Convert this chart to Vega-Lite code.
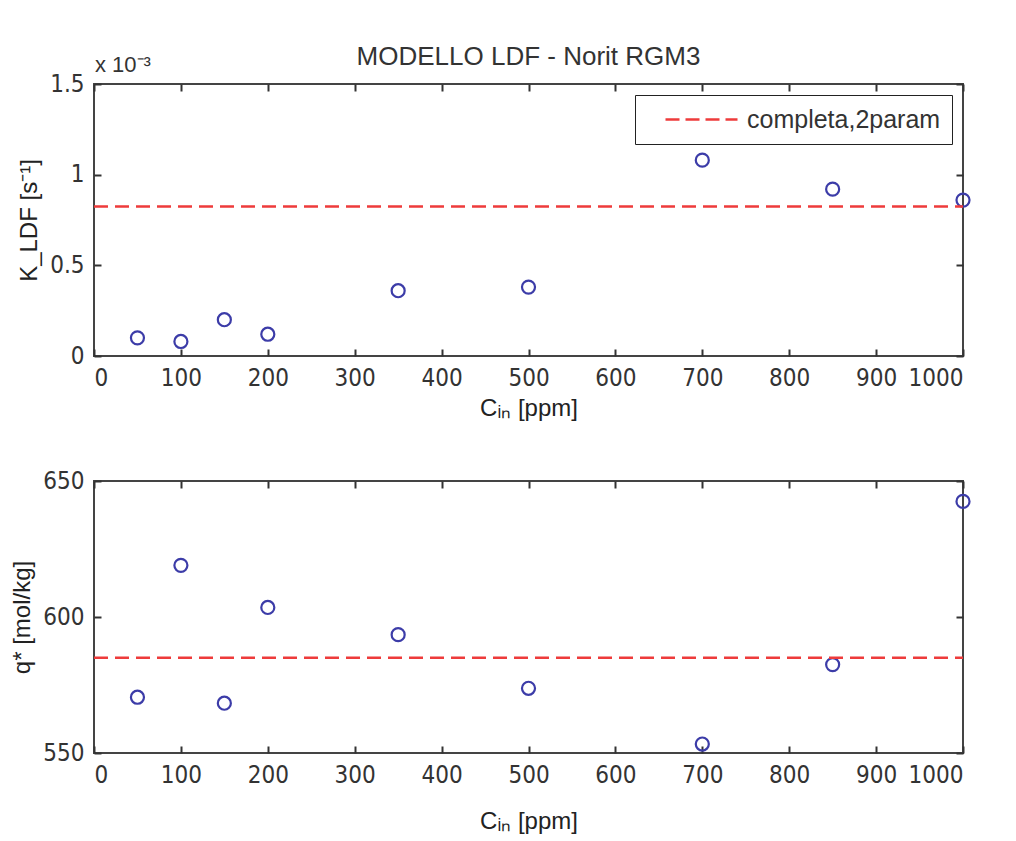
{
  "$schema": "https://vega.github.io/schema/vega-lite/v6.json",
  "padding": {"left": 9, "top": 43, "right": 40, "bottom": 2},
  "background": "white",
  "config": {
    "view": {"stroke": "#444", "strokeWidth": 2},
    "font": "Liberation Sans",
    "axis": {
      "grid": false, "domain": false, "tickSize": -7, "tickWidth": 2, "tickColor": "#333",
      "labelFont": "DejaVu Sans Condensed, Liberation Sans Narrow, Liberation Sans", "labelFontSize": 24, "labelColor": "#333", "labelPadding": 17,
      "titleFont": "Liberation Sans", "titleFontSize": 24, "titleFontWeight": "normal", "titleColor": "#222"
    },
    "legend": {
      "orient": "top-right", "offset": 11, "strokeColor": "#222", "fillColor": "white", "padding": 11,
      "labelFont": "Liberation Sans", "labelFontSize": 25, "labelColor": "#333", "labelOffset": 8, "labelLimit": 500,
      "symbolType": "M-5,0H1", "symbolSize": 576, "symbolStrokeWidth": 2.5, "symbolDash": [14, 6], "symbolOffset": 66,
      "title": null, "cornerRadius": 0
    }
  },
  "datasets": {
    "k": [
      {"C_in": 50, "K_LDF": 0.00010},
      {"C_in": 100, "K_LDF": 0.00008},
      {"C_in": 150, "K_LDF": 0.00020},
      {"C_in": 200, "K_LDF": 0.00012},
      {"C_in": 350, "K_LDF": 0.00036},
      {"C_in": 500, "K_LDF": 0.00038},
      {"C_in": 700, "K_LDF": 0.00108},
      {"C_in": 850, "K_LDF": 0.00092},
      {"C_in": 1000, "K_LDF": 0.00086}
    ],
    "q": [
      {"C_in": 50, "q": 570.5},
      {"C_in": 100, "q": 619.0},
      {"C_in": 150, "q": 568.3},
      {"C_in": 200, "q": 603.5},
      {"C_in": 350, "q": 593.5},
      {"C_in": 500, "q": 573.8},
      {"C_in": 700, "q": 553.3},
      {"C_in": 850, "q": 582.5},
      {"C_in": 1000, "q": 642.5}
    ],
    "kfit": [{"x0": 0, "x1": 1000, "K_LDF": 0.000825, "series": "completa,2param"}],
    "qfit": [{"x0": 0, "x1": 1000, "q": 585.0}],
    "note": [{"C_in": 0, "K_LDF": 0.0015, "label": "x 10⁻³"}]
  },
  "spacing": 47,
  "vconcat": [
    {
      "width": 869, "height": 272,
      "title": {"text": "MODELLO LDF - Norit RGM3", "fontSize": 26, "fontWeight": "normal", "color": "#333", "font": "Liberation Sans", "offset": 6, "dy": 22},
      "layer": [
        {
          "data": {"name": "k"},
          "mark": {"type": "point", "shape": "circle", "filled": false, "stroke": "#3c3ca8", "strokeWidth": 2.2, "size": 170, "opacity": 1},
          "encoding": {
            "x": {"field": "C_in", "type": "quantitative", "scale": {"domain": [0, 1000], "nice": false},
                  "axis": {"values": [0,100,200,300,400,500,600,700,800,900,1000], "format": "d", "title": "Cᵢₙ [ppm]", "titlePadding": 6}},
            "y": {"field": "K_LDF", "type": "quantitative", "scale": {"domain": [0, 0.0015], "nice": false},
                  "axis": {"values": [0, 0.0005, 0.001, 0.0015], "labelExpr": "datum.value == 0 ? '0' : format(datum.value*1000, '.1~f')", "title": "K_LDF [s⁻¹]", "titlePadding": 8}}
          }
        },
        {
          "data": {"name": "kfit"},
          "mark": {"type": "rule", "strokeDash": [14, 7], "strokeWidth": 2.5},
          "encoding": {
            "x": {"field": "x0", "type": "quantitative", "axis": {"orient": "top", "labels": false, "title": null, "values": [0,100,200,300,400,500,600,700,800,900,1000]}},
            "x2": {"field": "x1"},
            "y": {"field": "K_LDF", "type": "quantitative", "axis": {"orient": "right", "labels": false, "title": null, "values": [0, 0.0005, 0.001, 0.0015]}},
            "color": {"field": "series", "type": "nominal", "scale": {"range": ["#ee3b3b"]}}
          }
        },
        {
          "data": {"name": "note"},
          "mark": {"type": "text", "align": "left", "baseline": "alphabetic", "dy": -12, "dx": 1, "fontSize": 22, "color": "#333", "font": "Liberation Sans"},
          "encoding": {
            "x": {"field": "C_in", "type": "quantitative", "axis": null},
            "y": {"field": "K_LDF", "type": "quantitative", "axis": null},
            "text": {"field": "label"}
          }
        }
      ],
      "resolve": {"axis": {"x": "independent", "y": "independent"}}
    },
    {
      "width": 869, "height": 272,
      "layer": [
        {
          "data": {"name": "q"},
          "mark": {"type": "point", "shape": "circle", "filled": false, "stroke": "#3c3ca8", "strokeWidth": 2.2, "size": 170, "opacity": 1},
          "encoding": {
            "x": {"field": "C_in", "type": "quantitative", "scale": {"domain": [0, 1000], "nice": false},
                  "axis": {"values": [0,100,200,300,400,500,600,700,800,900,1000], "format": "d", "title": "Cᵢₙ [ppm]", "titlePadding": 22}},
            "y": {"field": "q", "type": "quantitative", "scale": {"domain": [550, 650], "nice": false},
                  "axis": {"values": [550, 600, 650], "title": "q* [mol/kg]", "titlePadding": 8}}
          }
        },
        {
          "data": {"name": "qfit"},
          "mark": {"type": "rule", "strokeDash": [14, 7], "strokeWidth": 2.5, "color": "#ee3b3b"},
          "encoding": {
            "x": {"field": "x0", "type": "quantitative", "axis": {"orient": "top", "labels": false, "title": null, "values": [0,100,200,300,400,500,600,700,800,900,1000]}},
            "x2": {"field": "x1"},
            "y": {"field": "q", "type": "quantitative", "axis": {"orient": "right", "labels": false, "title": null, "values": [550, 600, 650]}}
          }
        }
      ],
      "resolve": {"axis": {"x": "independent", "y": "independent"}}
    }
  ]
}
